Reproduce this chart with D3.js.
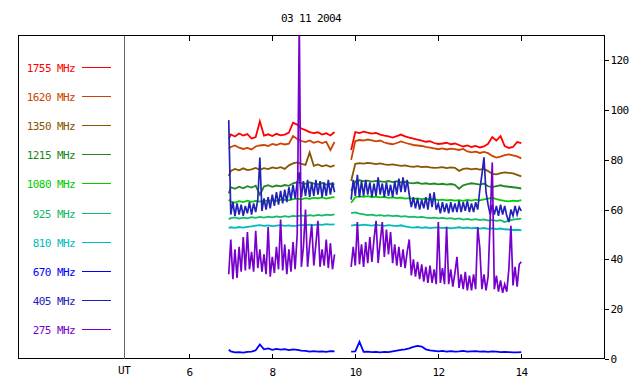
<!DOCTYPE html>
<html><head><meta charset="utf-8">
<script src="https://cdn.jsdelivr.net/npm/d3@7"></script>
<style>
body{margin:0;background:#fff}
text{font-family:'DejaVu Sans Mono',monospace;font-size:11px;letter-spacing:-0.6px}
</style>
</head><body><svg id="c" width="640" height="384"></svg>
<script>
// ---------- data ----------
const title = "03 11 2004";
const xLabel = "UT";
const utHour = 4.43;
const xTicks = [6, 8, 10, 12, 14];
const yTicks = [0, 20, 40, 60, 80, 100, 120];
const freqLabels = ["1755 MHz","1620 MHz","1350 MHz","1215 MHz","1080 MHz","925 MHz","810 MHz","670 MHz","405 MHz","275 MHz"];
const colors = ["#ff0000","#cc4400","#885500","#228822","#00cc00","#11bb66","#00bbbb","#0000ff","#2222bb","#7700cc"];

// coarse time base (hours UT)
const hours = [6.95,7.0,7.1,7.2,7.3,7.4,7.5,7.6,7.7,7.8,7.9,8.0,8.1,8.2,8.3,8.4,8.5,8.6,8.7,8.8,8.9,9.0,9.1,9.2,9.3,9.4,9.5,
 9.9,10.0,10.1,10.2,10.3,10.4,10.5,10.6,10.7,10.8,10.9,11.0,11.1,11.2,11.3,11.4,11.5,11.6,11.7,11.8,11.9,12.0,12.1,12.2,12.3,12.4,12.5,12.6,12.7,12.8,12.9,13.0,13.1,13.2,13.3,13.4,13.5,13.6,13.7,13.8,13.9,14.0];
// fine time base (hours UT)
const hoursFine = [6.95,7,7.05,7.1,7.15,7.2,7.25,7.3,7.35,7.4,7.45,7.5,7.55,7.6,7.65,7.7,7.75,7.8,7.85,7.9,7.95,8,8.05,8.1,8.15,8.2,8.25,8.3,8.35,8.4,8.45,8.5,8.55,8.6,8.65,8.7,8.75,8.8,8.85,8.9,8.95,9,9.05,9.1,9.15,9.2,9.25,9.3,9.35,9.4,9.45,9.5,
 9.9,9.95,10,10.05,10.1,10.15,10.2,10.25,10.3,10.35,10.4,10.45,10.5,10.55,10.6,10.65,10.7,10.75,10.8,10.85,10.9,10.95,11,11.05,11.1,11.15,11.2,11.25,11.3,11.35,11.4,11.45,11.5,11.55,11.6,11.65,11.7,11.75,11.8,11.85,11.9,11.95,12,12.05,12.1,12.15,12.2,12.25,12.3,12.35,12.4,12.45,12.5,12.55,12.6,12.65,12.7,12.75,12.8,12.85,12.9,12.95,13,13.05,13.1,13.15,13.2,13.25,13.3,13.35,13.4,13.45,13.5,13.55,13.6,13.65,13.7,13.75,13.8,13.85,13.9,13.95,14];

const s1755 = [88.5,90.2,89.4,90.6,89.8,90.4,88.6,89.2,95.5,89.8,90.3,89.6,90.5,89.9,90.2,91.0,95.0,94.2,92.6,92.0,91.2,90.8,91.1,90.2,90.7,89.8,91.2,
 84,91.2,90.8,91.4,91.0,90.6,90.9,90.2,89.8,89.5,89.0,89.6,90.2,89.5,89.0,88.6,88.2,87.8,87.3,87.5,86.8,86.4,86.6,86.9,86.3,86.6,86.0,85.4,85.8,85.2,85.6,85.0,85.4,86.5,89.2,87.8,89.6,85.6,84.8,85.2,87.2,86.8];
const s1620 = [84.6,85.2,85.8,84.9,84.4,84.8,84.2,85.4,85.8,86.0,85.6,86.4,86.0,86.6,86.2,86.5,89.6,88.4,87.6,87.2,87.8,86.9,87.4,86.8,87.3,84.0,87.2,
 80,87.6,88.0,87.8,88.2,87.9,87.5,87.8,87.0,86.6,86.3,86.8,87.4,86.9,86.4,86.0,85.8,85.6,85.2,84.9,84.6,84.3,84.6,84.2,84.5,84.3,84.0,84.4,83.4,83.0,83.3,82.8,83.2,82.7,81.6,80.9,81.3,81.9,82.2,81.8,81.4,80.6];
const s1350 = [73.5,75.6,76.4,75.8,76.6,75.9,76.2,76.8,76.0,76.7,76.3,77.0,76.6,77.1,76.4,77.8,78.6,79.0,78.4,78.0,83.0,77.6,78.2,77.4,77.9,77.2,77.8,
 71.5,78.4,78.7,78.5,78.8,78.6,78.3,78.6,78.2,78.0,78.2,77.9,77.6,77.8,77.4,77.2,77.5,77.1,77.3,77.0,76.8,76.9,77.1,76.7,77.0,76.8,75.6,76.4,76.6,76.2,76.5,76.1,76.4,75.5,74.4,74.2,74.7,75.0,74.8,74.6,74.0,73.4];
const s1215 = [66.5,69.0,68.4,69.2,68.6,69.4,68.9,69.6,66.0,69.3,69.8,69.2,69.7,69.4,69.9,69.6,70.6,71.0,70.7,70.4,71.0,70.5,70.2,70.7,70.1,70.4,70.2,
 67.5,71.4,71.8,71.5,71.7,71.3,71.6,71.4,71.2,71.5,71.1,71.4,71.0,71.2,70.8,70.6,70.9,70.4,70.6,70.3,70.5,70.2,70.4,70.1,70.3,70.0,68.4,69.8,70.3,70.6,70.4,70.1,70.5,69.4,69.1,69.5,69.8,69.4,69.2,69.0,68.8,68.5];
const s1080 = [64.0,63.2,62.8,63.4,63.0,63.6,63.1,63.5,63.2,63.7,63.4,63.8,63.5,63.9,64.0,63.7,64.2,64.4,64.1,64.6,64.3,64.8,64.5,64.9,64.4,64.8,65.0,
 62.8,65.0,65.3,65.1,65.4,65.0,65.2,64.9,65.1,64.7,64.9,64.6,64.8,64.4,64.6,64.3,64.5,64.2,64.4,64.0,64.2,63.8,64.0,63.7,63.9,63.6,63.8,63.5,63.9,63.6,64.0,63.7,64.1,64.4,64.8,64.2,63.8,63.5,63.3,63.6,63.4,63.8];
const s925 = [56.2,56.6,56.9,56.4,56.8,56.5,57.0,56.7,57.1,56.8,57.2,56.9,57.3,57.0,57.4,57.1,57.5,57.3,57.7,57.4,57.8,57.5,57.9,57.6,58.0,57.8,58.1,
 58.6,58.9,58.4,58.1,57.8,58.0,57.6,57.8,57.5,57.7,57.4,57.6,57.2,57.4,57.0,57.2,56.9,57.1,56.8,56.6,56.8,56.5,56.7,56.4,56.6,56.2,56.5,56.0,56.3,55.9,56.2,55.8,56.1,55.6,55.9,55.5,55.8,55.0,55.6,56.0,56.2,56.4];
const s810 = [52.6,52.9,52.7,53.0,52.8,53.1,53.3,53.6,53.8,53.5,53.7,53.4,53.6,53.8,53.5,53.7,53.4,53.6,53.9,53.7,54.0,53.8,54.1,53.9,54.2,54.0,54.1,
 53.6,53.9,53.7,54.0,53.8,53.6,53.9,53.7,53.5,53.8,53.6,53.4,53.7,53.3,53.0,52.8,53.0,52.7,52.9,52.6,52.8,52.9,52.6,52.8,52.5,52.7,52.9,52.6,52.8,52.5,52.7,52.4,52.6,52.3,52.5,52.2,52.4,52.1,52.0,51.8,51.9,51.7];
const s670 = [3.6,3.0,2.6,2.7,2.5,2.8,2.9,3.4,5.8,3.8,4.2,3.6,4.0,3.7,3.9,3.5,3.8,3.6,3.3,3.2,2.9,3.1,2.9,3.0,2.8,3.1,3.0,
 2.9,3.0,6.8,2.8,2.9,2.7,2.8,2.6,2.8,2.7,3.0,3.3,3.6,3.8,4.2,4.8,5.2,4.9,3.8,3.4,3.2,3.0,3.2,2.9,3.1,2.9,3.0,3.2,2.9,3.0,3.1,2.9,3.0,2.8,3.0,2.9,2.7,2.8,2.7,2.6,2.6,2.7];
const s405 = [96,58,63,57.5,62.5,58,62,57.5,61.5,58.5,63,58,62.5,59,64,81,59.5,64.5,60,65,60.5,66,61.5,67,62,67.5,62.5,68,63,69,64,70,64.5,71,75,65,71.5,65.5,72,65,71,65.5,72,66,71.5,65,71,65.5,72,66,71,67,
 64,72,65.5,74,65,71.5,65.5,72,66,71,65,70.5,65.5,73,66,70.5,65,71,65.5,70,65,71.5,66,72.5,67,73,67,72,66,61,65,60.5,64.5,60,64,60.5,65,60,66.5,61,67,60,62.5,58.5,63,59,62.5,58.5,63,59,62.5,59,63.5,59,63,59.5,63.5,59,62.5,59,63,60,68,74,81,67,62,58,62,58,61.5,57.5,62,58,61.5,57.5,55,60,57.5,61.5,58,61,59.5];
const s275 = [34,48,32,44,32.5,45,35,49,35.5,51,36,43,35,51.5,36.5,44,35,42,34,53,33,41,34.5,45,36,56,35.5,46,34,44,35,47,36,50,135,37,45,60,37,46,54,37.5,46,55.5,37,44,37.5,48,36.5,46.5,36,42,
 37,45,37.5,55,38,46,37,47,38.5,49,39,48,55.5,38.5,47,55,41,52,42,51,38.5,46,37.5,45,37,44,36.5,43,48,33.5,40,33,39,32,38,31,37,30.5,37.5,30.5,36,30,55,30.5,36.5,30,53,30,36,29,34.5,41,28.5,34,28,35,27.5,33.5,27.5,34,28,53,44.5,28,34,27.5,33,56,79,28,33.5,27,31.5,26.5,30,27,36,53.5,29.5,37,29,38,39];

// ---------- chart ----------
const svg = d3.select("#c");
svg.append("rect").attr("width",640).attr("height",384).attr("fill","#fff");

const x = d3.scaleLinear().domain([6,14]).range([189.3,521.3]);
const y = d3.scaleLinear().domain([0,130]).range([358.8,35.6]);
const frame = {l:18.5, r:604.5, t:35.5, b:358.5};

const series = [
  {v:s1755,t:hours,w:1.8},{v:s1620,t:hours,w:1.8},{v:s1350,t:hours,w:1.8},{v:s1215,t:hours,w:1.8},{v:s1080,t:hours,w:1.8},
  {v:s925,t:hours,w:1.8},{v:s810,t:hours,w:1.8},{v:s670,t:hours,w:1.8},{v:s405,t:hoursFine,w:1.7},{v:s275,t:hoursFine,w:1.7}
].map((s,i)=>({...s,label:freqLabels[i],color:colors[i]}));

svg.append("defs").append("clipPath").attr("id","clip").append("rect")
  .attr("x",x(utHour)).attr("y",frame.t).attr("width",frame.r-x(utHour)).attr("height",frame.b-frame.t);

// frame
svg.append("rect").attr("x",frame.l).attr("y",frame.t).attr("width",frame.r-frame.l).attr("height",frame.b-frame.t)
  .attr("fill","none").attr("stroke","#000").attr("stroke-width",1).attr("shape-rendering","crispEdges");

// UT gray line
svg.append("line").attr("x1",Math.round(x(utHour))+0.5).attr("x2",Math.round(x(utHour))+0.5)
  .attr("y1",frame.t).attr("y2",frame.b).attr("stroke","#666").attr("stroke-width",1).attr("shape-rendering","crispEdges");

// x ticks top and bottom
xTicks.forEach(t=>{
  const px = Math.round(x(t))+0.5;
  svg.append("line").attr("x1",px).attr("x2",px).attr("y1",frame.t).attr("y2",frame.t+5).attr("stroke","#000").attr("shape-rendering","crispEdges");
  svg.append("line").attr("x1",px).attr("x2",px).attr("y1",frame.b).attr("y2",frame.b-5).attr("stroke","#000").attr("shape-rendering","crispEdges");
  svg.append("text").attr("x",px).attr("y",376).attr("text-anchor","middle").attr("fill","#000").text(t);
});
svg.append("text").attr("x",x(utHour)).attr("y",374).attr("text-anchor","middle").attr("fill","#000").text(xLabel);

// y axis right
const yAxis = d3.axisRight(y).tickValues(yTicks).tickSize(4).tickPadding(2);
const ga = svg.append("g").attr("transform",`translate(${frame.r},0)`).call(yAxis);
ga.select(".domain").remove();
ga.selectAll("line").attr("stroke","#000").attr("shape-rendering","crispEdges");
ga.selectAll("text").attr("fill","#000").style("font-family","'DejaVu Sans Mono',monospace").style("font-size","11px");

// title
svg.append("text").attr("x",311).attr("y",22).attr("text-anchor","middle").attr("fill","#000").text(title);

// legend
const legY0 = 67, legStep = 29.1;
series.forEach((s,i)=>{
  const ly = Math.round(legY0 + i*legStep);
  svg.append("text").attr("x",75).attr("y",ly+4.5).attr("text-anchor","end").attr("fill",s.color).text(s.label);
  svg.append("line").attr("x1",82).attr("x2",111).attr("y1",ly+0.5).attr("y2",ly+0.5)
    .attr("stroke",s.color).attr("stroke-width",1.2).attr("shape-rendering","crispEdges");
});

// data lines (split where time gap)
const line = d3.line().x(d=>x(d.t)).y(d=>y(d.v));
const gData = svg.append("g").attr("clip-path","url(#clip)");
series.forEach(s=>{
  const pts = s.t.map((t,i)=>({t, v:s.v[i]})).filter(d=>d.v!=null);
  const segs = [];
  let cur = [];
  pts.forEach((p,i)=>{
    if (i>0 && p.t - pts[i-1].t > 0.2) { segs.push(cur); cur = []; }
    cur.push(p);
  });
  segs.push(cur);
  segs.forEach(seg=>{
    gData.append("path").attr("d",line(seg)).attr("fill","none")
      .attr("stroke",s.color).attr("stroke-width",s.w).attr("stroke-linejoin","miter");
  });
});
</script>
</body></html>
